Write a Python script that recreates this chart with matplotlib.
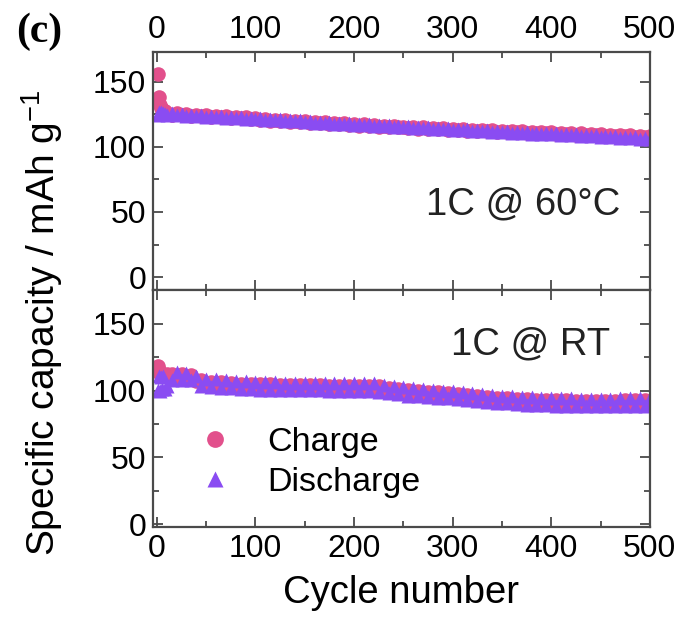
import matplotlib

matplotlib.use("Agg")
import matplotlib.pyplot as plt
from matplotlib.ticker import MultipleLocator

plt.rcParams["font.family"] = ["Liberation Sans", "DejaVu Sans"]
plt.rcParams["mathtext.default"] = "regular"

# cycle numbers sampled from the curves
cycles = [1, 2, 3, 4, 5, 6, 8] + list(range(10, 501, 5))

# 1C @ 60 C
hot_charge = [
    156, 138, 132, 129.5, 128.5, 128, 127.5,
    126.3, 124.8, 125.9, 124.2, 125.3, 123.9, 124.8, 123.4, 124.4, 122.9,
    123.9, 122.6, 123.5, 122.1, 123.0, 121.8, 122.6, 121.2, 122.1,
    120.7, 121.6, 120.2, 121.0, 119.8, 120.6, 119.3, 120.1, 118.9, 119.7,
    118.5, 119.3, 118.1, 118.9, 117.7, 118.5, 117.3, 118.0, 116.9, 117.6,
    116.4, 117.2, 116.0, 116.8, 115.6, 116.4, 115.2, 116.0, 114.9, 115.6,
    114.5, 115.2, 114.1, 114.9, 113.8, 114.5, 113.4, 114.2, 113.1, 113.8,
    112.8, 113.6, 112.5, 113.3, 112.2, 113.0, 111.9, 112.7, 111.7, 112.4,
    111.4, 112.2, 111.1, 111.9, 110.9, 111.6, 110.6, 111.4, 110.4, 111.1,
    110.1, 110.9, 109.8, 110.6, 109.5, 110.3, 109.2, 110.0, 108.9, 109.7,
    108.6, 109.4, 108.3, 109.1, 108.0, 108.8, 107.7, 108.5, 107.4, 108.1,
]
hot_discharge = [
    124.5, 127, 125.5, 126.5, 125, 126, 125,
    124.6, 125.8, 124.3, 125.2, 123.9, 124.8, 123.5, 124.4, 123.1, 124.0,
    122.8, 123.6, 122.4, 123.2, 122.0, 122.8, 121.6, 122.4, 121.2,
    121.9, 120.8, 121.5, 120.4, 121.1, 119.9, 120.7, 119.5, 120.3, 119.1,
    119.9, 118.7, 119.4, 118.3, 119.0, 117.9, 118.6, 117.5, 118.2, 117.1,
    117.8, 116.6, 117.4, 116.3, 117.0, 115.9, 116.6, 115.5, 116.2, 115.1,
    115.8, 114.7, 115.4, 114.3, 115.0, 113.9, 114.6, 113.5, 114.2, 113.1,
    113.8, 112.7, 113.4, 112.4, 113.1, 112.0, 112.7, 111.6, 112.3, 111.3,
    112.0, 110.9, 111.6, 110.6, 111.3, 110.2, 111.0, 109.9, 110.6, 109.6,
    110.3, 109.2, 109.9, 108.9, 109.6, 108.5, 109.2, 108.2, 108.9, 107.8,
    108.5, 107.5, 108.2, 107.1, 107.8, 106.8, 107.5, 106.4, 107.1, 106.2,
]

# 1C @ room temperature
rt_charge = [
    118, 115, 112.5, 111.5, 112, 110.5, 111,
    112.5, 112.0, 108.4, 112.2, 108.6, 111.8,
    106.8, 107.7, 104.8, 106.7, 104.3, 106.2, 103.8, 105.7, 103.3, 105.2,
    102.8, 105.2, 102.3,
    104.7, 102.3, 104.7, 102.3, 104.2, 101.8, 104.2, 101.8, 104.2, 101.8,
    104.2, 101.8, 104.2, 101.8, 103.7, 101.3, 103.7, 101.3, 103.7, 101.3,
    103.7, 101.3, 103.7, 101.3, 103.2, 100.3, 102.2, 99.3, 101.2, 98.3,
    100.2, 97.6, 99.7, 97.0, 99.2, 96.5, 98.6, 96.0, 98.2, 95.5,
    97.5, 94.7, 96.7, 93.9, 95.9, 93.2, 95.3, 92.6, 94.7, 92.1,
    94.3, 91.7, 93.9, 91.3, 93.5, 90.9, 93.2, 90.7, 93.0, 90.5,
    92.8, 90.3, 92.6, 90.1, 92.4, 89.9, 92.2, 89.8, 92.2, 89.8,
    92.2, 89.9, 92.4, 90.1, 92.6, 90.3, 92.7, 90.3, 92.7, 90.3,
]
rt_discharge = [
    100.5, 111, 100, 110, 101, 110.5, 101,
    103.5, 107.8, 113.6, 107.6, 113.2, 108.0,
    110.8, 103.7, 108.8, 102.7, 108.3, 102.2, 107.8, 101.7, 107.3, 101.2,
    106.8, 101.2, 106.3,
    100.7, 106.3, 100.7, 106.3, 100.2, 105.8, 100.2, 105.8, 100.2, 105.8,
    100.2, 105.8, 100.2, 105.8, 99.7, 105.3, 99.7, 105.3, 99.7, 105.3,
    99.7, 105.3, 99.7, 105.3, 99.2, 104.3, 98.2, 103.3, 97.2, 102.3,
    96.2, 101.6, 95.7, 101.0, 95.2, 100.5, 94.6, 100.0, 94.2, 99.5,
    93.5, 98.7, 92.7, 97.9, 91.9, 97.2, 91.3, 96.6, 90.7, 96.1,
    90.3, 95.7, 89.9, 95.3, 89.5, 94.9, 89.2, 94.7, 89.0, 94.5,
    88.8, 94.3, 88.6, 94.1, 88.4, 93.9, 88.2, 93.8, 88.2, 93.8,
    88.2, 93.9, 88.4, 94.1, 88.6, 94.3, 88.7, 94.3, 88.7, 94.3,
]

CHARGE_COLOR = "#e2508c"
DISCHARGE_COLOR = "#8a4cf2"
SPINE_COLOR = "#4a4a4a"

fig = plt.figure(figsize=(6.79, 6.32), dpi=100)
ax_top = fig.add_axes([0.2253, 0.541, 0.7317, 0.377])
ax_bot = fig.add_axes([0.2253, 0.166, 0.7317, 0.375], sharex=ax_top)

panels = [
    (ax_top, hot_charge, hot_discharge, (-10, 173), "1C @ 60°C", (0.745, 0.36)),
    (ax_bot, rt_charge, rt_discharge, (-2, 175), "1C @ RT", (0.76, 0.77)),
]

for ax, charge, discharge, ylim, label, label_pos in panels:
    ax.plot(cycles, charge, "o", color=CHARGE_COLOR, ms=10.5, mec="none", label="Charge")
    ax.plot(cycles, discharge, "^", color=DISCHARGE_COLOR, ms=10.5, mec="none", label="Discharge")
    ax.set_xlim(-4, 500)
    ax.set_ylim(*ylim)
    ax.xaxis.set_major_locator(MultipleLocator(100))
    ax.xaxis.set_minor_locator(MultipleLocator(50))
    ax.yaxis.set_major_locator(MultipleLocator(50))
    ax.yaxis.set_minor_locator(MultipleLocator(25))
    ax.tick_params(which="both", direction="in", top=True, right=True,
                   color=SPINE_COLOR, width=1.3, labelsize=23, pad=5)
    ax.tick_params(which="major", length=7)
    ax.tick_params(which="minor", length=4)
    for spine in ax.spines.values():
        spine.set_color(SPINE_COLOR)
        spine.set_linewidth(1.6)
    ax.text(*label_pos, label, transform=ax.transAxes, ha="center", va="center",
            fontsize=27.5, color="#222222")

ax_top.tick_params(axis="x", labelbottom=False, labeltop=True)
ax_bot.tick_params(axis="x", labelbottom=True, labeltop=False)

ax_bot.set_xlabel("Cycle number", fontsize=27.5, labelpad=8)
fig.text(0.062, 0.49, "Specific capacity / mAh g$^{-1}$", rotation=90,
         ha="center", va="center", fontsize=28)
fig.text(0.057, 0.95, "(c)", family="Liberation Serif", weight="bold",
         fontsize=30, ha="center", va="center")

ax_bot.legend(loc="lower left", bbox_to_anchor=(-0.006, -0.005), frameon=False,
              fontsize=24.5, markerscale=1.15, handletextpad=0.55, labelspacing=0.25)

fig.savefig("out.png", dpi=100)
